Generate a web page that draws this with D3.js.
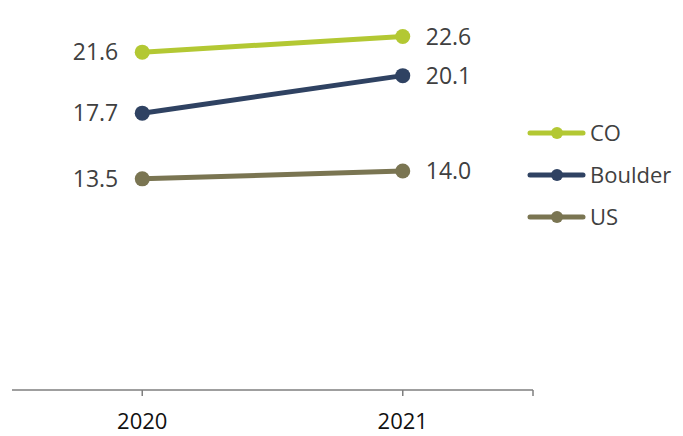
<!DOCTYPE html>
<html>
<head>
<meta charset="utf-8">
<script src="https://cdn.jsdelivr.net/npm/d3@7"></script>
<style>
  html, body { margin: 0; padding: 0; background: #fff; }
  svg { display: block; }
</style>
</head>
<body>
<svg id="chart" width="683" height="436"></svg>
<script>
// ─── Data ────────────────────────────────────────────────────────────────────
const years = ['2020', '2021'];
const seriesNames = ['CO', 'Boulder', 'US'];
const coValues = [21.6, 22.6];
const boulderValues = [17.7, 20.1];
const usValues = [13.5, 14.0];
const seriesColors = ['#b3c833', '#2f4262', '#7a7552'];

// ─── Layout ──────────────────────────────────────────────────────────────────
const W = 683, H = 436;
const PLOT = { x0: 12, x1: 533, y0: -1, y1: 390 };
const FONT = '"Open Sans", "DejaVu Sans", sans-serif';

const svg = d3.select('#chart');

const x = d3.scalePoint()
  .domain(years)
  .range([PLOT.x0, PLOT.x1])
  .padding(0.5);

const y = d3.scaleLinear()
  .domain([0, 25])
  .range([PLOT.y1, PLOT.y0]);

const series = [
  { name: seriesNames[0], values: coValues, color: seriesColors[0] },
  { name: seriesNames[1], values: boulderValues, color: seriesColors[1] },
  { name: seriesNames[2], values: usValues, color: seriesColors[2] },
];

// ── X axis: baseline with ticks at each category and at the right end ──────
const axisG = svg.append('g');
axisG.append('line')
  .attr('x1', PLOT.x0).attr('x2', PLOT.x1)
  .attr('y1', y(0)).attr('y2', y(0))
  .attr('stroke', '#7f7f7f')
  .attr('stroke-width', 1.5);

axisG.selectAll('line.tick')
  .data(years.map(d => x(d)).concat([PLOT.x1]))
  .join('line')
  .attr('class', 'tick')
  .attr('x1', d => d).attr('x2', d => d)
  .attr('y1', y(0)).attr('y2', y(0) + 6)
  .attr('stroke', '#7f7f7f')
  .attr('stroke-width', 1.5);

// baseline kept high enough that the glyph box stays inside the frame
axisG.selectAll('text')
  .data(years)
  .join('text')
  .attr('x', d => x(d))
  .attr('y', 429)
  .attr('text-anchor', 'middle')
  .style('font-family', FONT)
  .style('font-size', '22px')
  .style('fill', '#111')
  .text(d => d);

// ── Lines + markers ────────────────────────────────────────────────────────
const line = d3.line()
  .x((d, i) => x(years[i]))
  .y(d => y(d));

const sg = svg.append('g')
  .selectAll('g')
  .data(series)
  .join('g');

sg.append('path')
  .attr('d', d => line(d.values))
  .attr('fill', 'none')
  .attr('stroke', d => d.color)
  .attr('stroke-width', 5);

sg.selectAll('circle')
  .data(d => d.values.map((v, i) => ({ v, i, color: d.color })))
  .join('circle')
  .attr('cx', d => x(years[d.i]))
  .attr('cy', d => y(d.v))
  .attr('r', 7.5)
  .attr('fill', d => d.color);

// ── Value labels: left of 2020, right of 2021 ──────────────────────────────
sg.selectAll('text')
  .data(d => d.values.map((v, i) => ({ v, i })))
  .join('text')
  .attr('x', d => d.i === 0 ? x(years[0]) - 24 : x(years[1]) + 23)
  .attr('y', d => y(d.v))
  .attr('dy', '0.35em')
  .attr('text-anchor', d => d.i === 0 ? 'end' : 'start')
  .style('font-family', FONT)
  .style('font-size', '23px')
  .style('fill', '#404040')
  .text(d => d.v.toFixed(1));

// ── Legend ─────────────────────────────────────────────────────────────────
const legend = svg.append('g')
  .selectAll('g')
  .data(series)
  .join('g')
  .attr('transform', (d, i) => `translate(530, ${133 + i * 42})`);

legend.append('line')
  .attr('x1', 0).attr('x2', 53)
  .attr('stroke', d => d.color)
  .attr('stroke-width', 5)
  .attr('stroke-linecap', 'round');

legend.append('circle')
  .attr('cx', 27)
  .attr('r', 6)
  .attr('fill', d => d.color);

legend.append('text')
  .attr('x', 60)
  .attr('dy', '0.35em')
  .style('font-family', FONT)
  .style('font-size', '22px')
  .style('fill', '#404040')
  .text(d => d.name);
</script>
</body>
</html>
